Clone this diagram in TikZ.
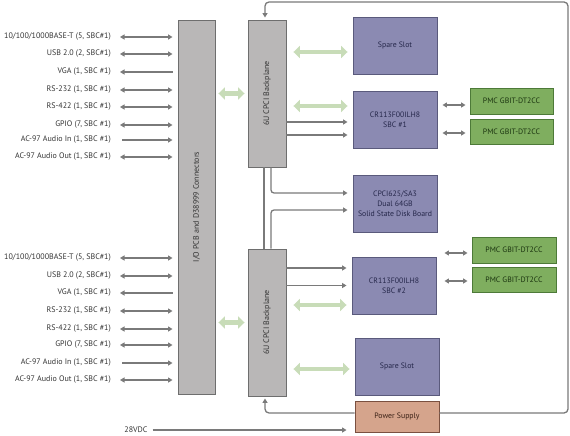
\documentclass[tikz,border=0pt]{standalone}
\usepackage{fontspec}
\setmainfont{PT Sans}
\usetikzlibrary{arrows.meta}
\definecolor{boxgray}{HTML}{B9B7B7}
\definecolor{edgegray}{HTML}{6E6E6E}
\definecolor{lineg}{HTML}{7A7A7A}
\definecolor{purp}{HTML}{8B8AB2}
\definecolor{purpedge}{HTML}{5A5A7C}
\definecolor{purptext}{HTML}{25274A}
\definecolor{pmcfill}{HTML}{7FAE5F}
\definecolor{pmcedge}{HTML}{4D7A38}
\definecolor{pmctext}{HTML}{1A330F}
\definecolor{psfill}{HTML}{D5A48C}
\definecolor{psedge}{HTML}{7A5040}
\definecolor{pstext}{HTML}{3A2015}
\definecolor{lgreen}{HTML}{C8DCB8}
\definecolor{labtext}{HTML}{333333}
\begin{document}
\begin{tikzpicture}[x=1pt,y=-1pt,
  graybox/.style={draw=edgegray,fill=boxgray,line width=0.9pt,inner sep=0pt},
  slotbox/.style={draw=purpedge,fill=purp,line width=0.9pt,minimum width=84pt,minimum height=57pt,align=center,text=purptext,font=\fontsize{7.8}{10}\selectfont},
  pmcbox/.style={draw=pmcedge,fill=pmcfill,line width=0.9pt,minimum width=83pt,minimum height=25pt,text=pmctext,font=\fontsize{7.8}{9}\selectfont},
  psbox/.style={draw=psedge,fill=psfill,line width=0.9pt,minimum width=84pt,minimum height=31pt,text=pstext,font=\fontsize{7.8}{9}\selectfont},
  lab/.style={anchor=east,inner sep=0pt,text=labtext,font=\fontsize{8}{9}\selectfont},
  rottext/.style={rotate=90,text=labtext,font=\fontsize{8}{9}\selectfont},
  conn/.style={draw=lineg,line width=1.3pt},
  tip/.style={-{Triangle[length=4.5pt,width=5pt]}},
  btip/.style={{Triangle[length=4.5pt,width=5pt]}-{Triangle[length=4.5pt,width=5pt]}},
  ltip/.style={{Triangle[length=4.5pt,width=5pt]}-},
  bigarrow/.style={draw=lgreen,line width=4.5pt,{Triangle[length=6.5pt,width=12pt]}-{Triangle[length=6.5pt,width=12pt]}}
]
\useasboundingbox (0,0) rectangle (570,436);

% main boxes
\node[graybox,minimum width=37pt,minimum height=374pt] (io) at (196.5,207) {};
\node[rottext] (iotext) at (io.center) {I/O PCB and D38999 Connectors};
\node[graybox,minimum width=38pt,minimum height=147pt] (bp1) at (267,93.5) {};
\node[rottext] (bp1text) at (bp1.center) {6U CPCI Backplane};
\node[graybox,minimum width=38pt,minimum height=147pt] (bp2) at (267,322.5) {};
\node[rottext] (bp2text) at (bp2.center) {6U CPCI Backplane};

\node[slotbox] (sp1) at (395,45.5) {Spare Slot};
\node[slotbox] (sbc1) at (395,119.5) {CR113F00ILH8\\SBC \#1};
\node[slotbox] (ssd) at (395,203.5) {CPCI625/SA3\\Dual 64GB\\Solid State Disk Board};
\node[slotbox] (sbc2) at (394,285.5) {CR113F00ILH8\\SBC \#2};
\node[slotbox] (sp2) at (397,366.5) {Spare Slot};
\node[psbox] (ps) at (397,416.5) {Power Supply};

\node[pmcbox,minimum height=26pt] (pmc1) at (511.5,101) {PMC GBIT-DT2CC};
\node[pmcbox] (pmc2) at (511.5,131.5) {PMC GBIT-DT2CC};
\node[pmcbox,minimum width=84pt,minimum height=26pt] (pmc3) at (514,250) {PMC GBIT-DT2CC};
\node[pmcbox,minimum width=84pt] (pmc4) at (514,279.5) {PMC GBIT-DT2CC};

% left labels, upper group
\node[lab] (a1) at (111,37) {10/100/1000BASE-T (5, SBC\#1)};
\node[lab] (a2) at (111,54) {USB 2.0 (2, SBC\#1)};
\node[lab] (a3) at (111,72) {VGA (1, SBC \#1)};
\node[lab] (a4) at (111,90) {RS-232 (1, SBC \#1)};
\node[lab] (a5) at (111,107) {RS-422 (1, SBC \#1)};
\node[lab] (a6) at (111,125) {GPIO (7, SBC \#1)};
\node[lab] (a7) at (111,140) {AC-97 Audio In (1, SBC \#1)};
\node[lab] (a8) at (111,157) {AC-97 Audio Out (1, SBC \#1)};
% lower group
\node[lab] (b1) at (111,258) {10/100/1000BASE-T (5, SBC\#1)};
\node[lab] (b2) at (111,276) {USB 2.0 (2, SBC\#1)};
\node[lab] (b3) at (111,293) {VGA (1, SBC \#1)};
\node[lab] (b4) at (111,311) {RS-232 (1, SBC \#1)};
\node[lab] (b5) at (111,329) {RS-422 (1, SBC \#1)};
\node[lab] (b6) at (111,345) {GPIO (7, SBC \#1)};
\node[lab] (b7) at (111,363) {AC-97 Audio In (1, SBC \#1)};
\node[lab] (b8) at (111,380) {AC-97 Audio Out (1, SBC \#1)};

\foreach \n in {a1,a2,a4,a5,a6,a8,b1,b2,b4,b5,b6,b8}{
  \draw[conn,btip,shorten <=1pt,shorten >=5pt] ([xshift=8pt]\n.east) -- (io.west |- \n.east);
}
\foreach \n in {a3,b3}{
  \draw[conn,ltip,shorten <=1pt,shorten >=5pt] ([xshift=8pt]\n.east) -- (io.west |- \n.east);
}
\foreach \n in {a7,b7}{
  \draw[conn,tip,shorten >=5pt] ([xshift=11pt]\n.east) -- (io.west |- \n.east);
}

% 28VDC
\node[text=labtext,font=\fontsize{8}{9}\selectfont,inner sep=0pt] (vdc) at (136,430) {28VDC};
\draw[conn,tip,shorten >=8pt] ([xshift=5pt]vdc.east) -- (ps.west |- vdc.east);

% helper coordinates on box edges
\coordinate (sp1in) at ([yshift=-6.5pt]sp1.west);
\coordinate (sbc1in) at ([yshift=13.5pt]sbc1.west);
\coordinate (sbc2in) at ([yshift=-19.5pt]sbc2.west);
\coordinate (sp2in) at ([yshift=-2.5pt]sp2.west);
\coordinate (sbc1a) at ([yshift=-2.5pt]sbc1.west);
\coordinate (sbc1b) at ([yshift=-15.5pt]sbc1.west);
\coordinate (sbc2a) at ([yshift=17.5pt]sbc2.west);
\coordinate (pmc1in) at ([yshift=-4pt]pmc1.west);
\coordinate (pmc2in) at ([yshift=-1.5pt]pmc2.west);
\coordinate (pmc3in) at ([yshift=-3pt]pmc3.west);
\coordinate (pmc4in) at ([yshift=-1.5pt]pmc4.west);

% wide green arrows
\draw[bigarrow,shorten <=3pt,shorten >=3pt] (io.east |- bp1.center) -- (bp1.west |- bp1.center);
\draw[bigarrow,shorten <=3pt,shorten >=3pt] (io.east |- bp2.center) -- (bp2.west |- bp2.center);
\draw[bigarrow,shorten <=7pt,shorten >=5pt] (bp1.east |- sp1in) -- (sp1in);
\draw[bigarrow,shorten <=7pt,shorten >=5pt] (bp1.east |- sbc1in) -- (sbc1in);
\draw[bigarrow,shorten <=7pt,shorten >=5pt] (bp2.east |- sbc2in) -- (sbc2in);
\draw[bigarrow,shorten <=7pt,shorten >=5pt] (bp2.east |- sp2in) -- (sp2in);

% backplane to SBCs
\draw[conn,tip,shorten >=5pt] (bp1.east |- sbc1a) -- (sbc1a);
\draw[conn,tip,shorten >=5pt] (bp1.east |- sbc1b) -- (sbc1b);
\draw[conn,tip,shorten >=5pt] (bp2.east |- sbc2a) -- (sbc2a);
\draw[conn,tip,shorten >=5pt] (bp2.east |- sbc2.west) -- (sbc2.west);

% SBC to PMC
\draw[conn,btip,shorten <=5pt,shorten >=4pt] (sbc1.east |- pmc1in) -- (pmc1in);
\draw[conn,btip,shorten <=5pt,shorten >=4pt] (sbc1.east |- pmc2in) -- (pmc2in);
\draw[conn,btip,shorten <=8pt,shorten >=4pt] (sbc2.east |- pmc3in) -- (pmc3in);
\draw[conn,btip,shorten <=8pt,shorten >=4pt] (sbc2.east |- pmc4in) -- (pmc4in);

% backplane links and SSD
\draw[conn] ([xshift=-3pt]bp1.south) -- ([xshift=-3pt]bp2.north);
\draw[conn,tip,rounded corners=3pt,shorten >=5pt] ([xshift=4pt]bp1.south) |- ([yshift=10.5pt]ssd.west);
\draw[conn,tip,rounded corners=3pt,shorten >=5pt] ([xshift=4pt]bp2.north) |- ([yshift=-6.5pt]ssd.west);

% power feedback
\coordinate (frameTR) at (568,2);
\draw[conn,tip,rounded corners=4pt,shorten >=2pt] ([yshift=3.5pt]ps.east) -| (frameTR) -| ([xshift=-2pt]bp1.north);
\draw[conn,tip,rounded corners=4pt,shorten >=2pt] ([yshift=3.5pt]ps.west) -| ([xshift=-2pt]bp2.south);
\end{tikzpicture}
\end{document}
